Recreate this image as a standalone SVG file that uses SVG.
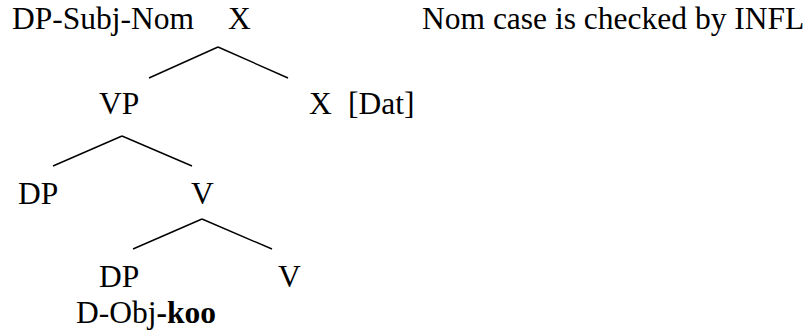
<svg xmlns="http://www.w3.org/2000/svg" width="808" height="333" viewBox="0 0 808 333">
<style>
text{font-family:"Liberation Serif","Times New Roman",serif;font-size:31.5px;fill:#000}
.b{font-weight:bold}
line{stroke:#000;stroke-width:1.4}
</style>
<rect width="808" height="333" fill="#fff"/>
<g id="n-subj"><text x="12" y="29">DP-Subj-Nom</text></g>
<g id="n-x"><text x="228" y="29">X</text></g>
<g id="n-note"><text x="422" y="29">Nom case is checked by INFL</text></g>
<g id="n-vp"><text x="99" y="114">VP</text></g>
<g id="n-xdat"><text x="309" y="114">X</text><text x="348" y="114">[Dat]</text></g>
<g id="n-dp1"><text x="18" y="204">DP</text></g>
<g id="n-v1"><text x="191" y="204">V</text></g>
<g id="n-dp2"><text x="99" y="287">DP</text><text x="76" y="323">D-Obj<tspan class="b">-koo</tspan></text></g>
<g id="n-v2"><text x="278" y="287">V</text></g>
<g id="connectors">
<line x1="218" y1="47" x2="149" y2="78"/>
<line x1="218" y1="47" x2="288" y2="78"/>
<line x1="122" y1="136" x2="53" y2="166"/>
<line x1="122" y1="136" x2="192" y2="166"/>
<line x1="202" y1="219" x2="133" y2="249"/>
<line x1="202" y1="219" x2="272" y2="249"/>
</g>
</svg>
